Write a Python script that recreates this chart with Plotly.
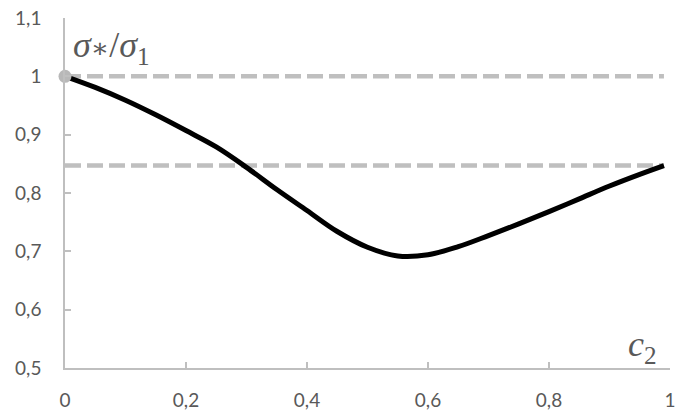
import plotly.graph_objects as go

# Relative strength sigma*/sigma1 as a function of c2
c2 = [0.0, 0.05, 0.10, 0.15, 0.20, 0.25, 0.30, 0.35, 0.40, 0.45, 0.50,
      0.55, 0.60, 0.65, 0.70, 0.75, 0.80, 0.85, 0.90, 0.95, 0.99]
ratio = [1.000, 0.981, 0.959, 0.934, 0.907, 0.879, 0.844, 0.806, 0.770, 0.734, 0.707,
         0.692, 0.694, 0.708, 0.727, 0.747, 0.768, 0.790, 0.812, 0.832, 0.847]

# Reference levels
upper_level = 1.0
end_level = 0.847

x_ticks = [0, 0.2, 0.4, 0.6, 0.8, 1.0]
y_ticks = [0.5, 0.6, 0.7, 0.8, 0.9, 1.0, 1.1]

grey = "#bfbfbf"
text_grey = "#595959"

fig = go.Figure()

for level in (upper_level, end_level):
    fig.add_trace(go.Scatter(
        x=[c2[0], c2[-1]], y=[level, level], mode="lines",
        line=dict(color=grey, width=4.5, dash="16px,6px"),
        hoverinfo="skip", showlegend=False))

fig.add_trace(go.Scatter(
    x=c2, y=ratio, mode="lines",
    line=dict(color="black", width=5, shape="spline", smoothing=1.0),
    showlegend=False))

fig.add_trace(go.Scatter(
    x=[c2[0]], y=[ratio[0]], mode="markers", cliponaxis=False,
    marker=dict(color="#b8b8b8", size=13),
    showlegend=False))

axis_common = dict(
    showgrid=False, zeroline=False, showline=True, linecolor=grey, linewidth=1.5,
    ticks="inside", ticklen=6, tickcolor=grey, tickwidth=1.5, automargin=False,
    tickfont=dict(family="Lato", size=19, color=text_grey),
)

fig.update_xaxes(range=[0, 1], tickvals=x_ticks, ticklabelstandoff=14, **axis_common)
fig.update_yaxes(range=[0.5, 1.1], tickvals=y_ticks, ticklabelstandoff=18, **axis_common)

fig.add_annotation(
    x=0.010, y=1.050, xref="x", yref="y", xanchor="left", yanchor="middle",
    text="<i>σ</i><span style='font-family:DejaVu Serif;font-size:27px'>∗</span>/<i>σ</i><sub>1</sub>",
    showarrow=False,
    font=dict(family="Liberation Serif", size=36, color=text_grey))

fig.add_annotation(
    x=0.928, y=0.537, xref="x", yref="y", xanchor="left", yanchor="middle",
    text="<i>c</i><sub>2</sub>", showarrow=False,
    font=dict(family="Liberation Serif", size=36, color=text_grey))

fig.update_layout(
    width=676, height=410,
    margin=dict(l=65, r=6, t=18, b=42),
    paper_bgcolor="white", plot_bgcolor="white",
    separators=",.",
)

fig.write_html("out.html")
